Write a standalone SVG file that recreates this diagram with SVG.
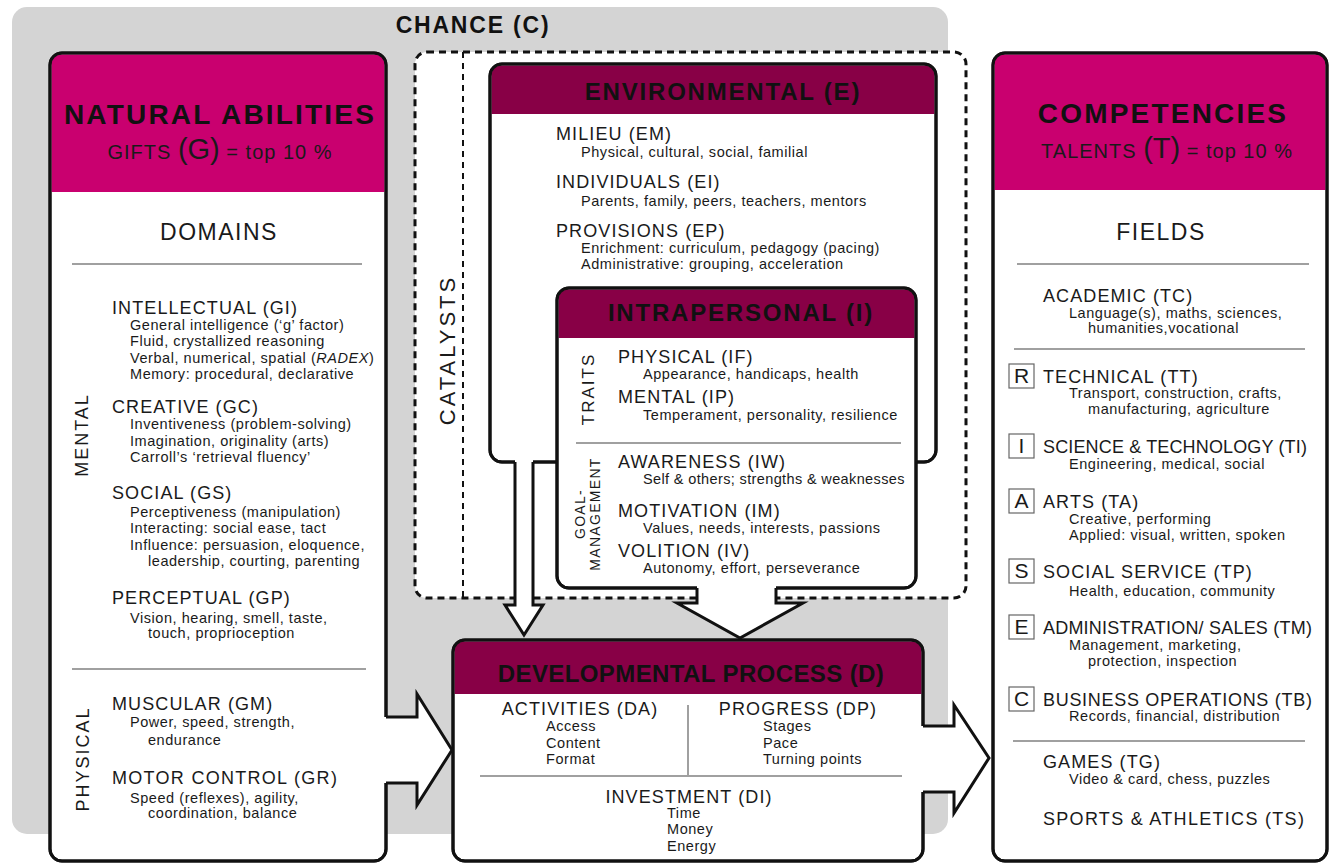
<svg xmlns="http://www.w3.org/2000/svg" width="1330" height="863" viewBox="0 0 1330 863">
<defs>
<style>
text{font-family:"Liberation Sans",Arial,sans-serif;fill:#1a1a1a}
.ttl{font-weight:bold;font-size:28px;letter-spacing:2.2px;fill:#111;text-anchor:middle}
.gift{font-size:20px;letter-spacing:1px;text-anchor:middle;fill:#1a1a1a}
.big{font-size:29px;letter-spacing:0}
.h2{font-size:23px;letter-spacing:1.5px;text-anchor:middle}
.hd{font-weight:bold;font-size:24px;letter-spacing:1.8px;fill:#111;text-anchor:middle}
.ch{font-weight:bold;font-size:23px;letter-spacing:1.8px;fill:#111;text-anchor:middle}
.it{font-size:18px;letter-spacing:1.1px}
.ds{font-size:14.5px;letter-spacing:0.55px}
.mid{text-anchor:middle}
.side{font-size:18px;letter-spacing:2px;text-anchor:middle}
.cat{font-size:22px;letter-spacing:3px;text-anchor:middle}
.gm{font-size:14px;letter-spacing:1.3px;text-anchor:middle}
.lb{font-size:21px;text-anchor:middle}
.box{fill:#fff;stroke:#111;stroke-width:3}
.mag{fill:#c9006f}
.mar{fill:#880046}
.sep{stroke:#808080;stroke-width:1.5;fill:none}
.lbox{fill:#fff;stroke:#666;stroke-width:1.2}
.arw{fill:#fff;stroke:none}
.aro{fill:none;stroke:#111;stroke-width:3;stroke-linejoin:miter}
</style>
</defs>

<g id="chance">
<rect x="12" y="7" width="936" height="827" rx="15" fill="#d4d4d4"/>
<text class="ch" x="473" y="33">CHANCE (C)</text>
</g>

<g id="catalysts">
<rect x="415" y="52" width="551" height="546" rx="12" fill="#fff" stroke="#111" stroke-width="3" stroke-dasharray="7 5"/>
<line x1="463" y1="52" x2="463" y2="598" stroke="#111" stroke-width="2" stroke-dasharray="6 5"/>
<text class="cat" transform="translate(455,350) rotate(-90)">CATALYSTS</text>
</g>

<g id="environmental">
<rect class="box" x="490" y="64" width="446" height="398" rx="12"/>
<path class="mar" d="M491.5,114 V76 Q491.5,65.5 502,65.5 H924 Q934.5,65.5 934.5,76 V114 Z"/>
<rect x="490" y="64" width="446" height="398" rx="12" fill="none" stroke="#111" stroke-width="3"/>
<text class="hd" x="723" y="100">ENVIRONMENTAL (E)</text>
<text class="it" x="556" y="140">MILIEU (EM)</text>
<text class="ds" x="581" y="157">Physical, cultural, social, familial</text>
<text class="it" x="556" y="188">INDIVIDUALS (EI)</text>
<text class="ds" x="581" y="206">Parents, family, peers, teachers, mentors</text>
<text class="it" x="556" y="237">PROVISIONS (EP)</text>
<text class="ds" x="581" y="253">Enrichment: curriculum, pedagogy (pacing)</text>
<text class="ds" x="581" y="269">Administrative: grouping, acceleration</text>
</g>

<g id="intrapersonal">
<rect class="box" x="557" y="288" width="359" height="300" rx="12"/>
<path class="mar" d="M558.5,338 V300 Q558.5,289.5 569,289.5 H904 Q914.5,289.5 914.5,300 V338 Z"/>
<rect x="557" y="288" width="359" height="300" rx="12" fill="none" stroke="#111" stroke-width="3"/>
<text class="hd" x="741" y="321">INTRAPERSONAL (I)</text>
<text class="side" style="font-size:17px" transform="translate(594,389) rotate(-90)">TRAITS</text>
<text class="it" x="618" y="363">PHYSICAL (IF)</text>
<text class="ds" x="643" y="379">Appearance, handicaps, health</text>
<text class="it" x="618" y="403">MENTAL (IP)</text>
<text class="ds" x="643" y="420">Temperament, personality, resilience</text>
<line class="sep" x1="576" y1="443" x2="901" y2="443"/>
<text class="gm" transform="translate(585,514) rotate(-90)">GOAL-</text>
<text class="gm" transform="translate(600,514) rotate(-90)">MANAGEMENT</text>
<text class="it" x="618" y="468">AWARENESS (IW)</text>
<text class="ds" x="643" y="484" textLength="262">Self &amp; others; strengths &amp; weaknesses</text>
<text class="it" x="618" y="517">MOTIVATION (IM)</text>
<text class="ds" x="643" y="533">Values, needs, interests, passions</text>
<text class="it" x="618" y="557">VOLITION (IV)</text>
<text class="ds" x="643" y="573">Autonomy, effort, perseverance</text>
</g>

<g id="natural-abilities">
<rect class="box" x="50" y="53" width="336" height="808" rx="12"/>
<path class="mag" d="M51.5,192 V65 Q51.5,54.5 62,54.5 H374 Q384.5,54.5 384.5,65 V192 Z"/>
<rect x="50" y="53" width="336" height="808" rx="12" fill="none" stroke="#111" stroke-width="3"/>
<text class="ttl" x="220" y="124">NATURAL ABILITIES</text>
<text class="gift" x="220" y="159">GIFTS <tspan class="big">(G)</tspan> = top 10 %</text>
<text class="h2" x="219" y="240">DOMAINS</text>
<line class="sep" x1="72" y1="264" x2="362" y2="264"/>
<text class="side" transform="translate(88,435) rotate(-90)">MENTAL</text>
<text class="it" x="112" y="314">INTELLECTUAL (GI)</text>
<text class="ds" x="130" y="330">General intelligence (‘g’ factor)</text>
<text class="ds" x="130" y="346">Fluid, crystallized reasoning</text>
<text class="ds" x="130" y="363">Verbal, numerical, spatial (<tspan font-style="italic">RADEX</tspan>)</text>
<text class="ds" x="130" y="379">Memory: procedural, declarative</text>
<text class="it" x="112" y="413">CREATIVE (GC)</text>
<text class="ds" x="130" y="429">Inventiveness (problem-solving)</text>
<text class="ds" x="130" y="446">Imagination, originality (arts)</text>
<text class="ds" x="130" y="462">Carroll’s ‘retrieval fluency’</text>
<text class="it" x="112" y="499">SOCIAL (GS)</text>
<text class="ds" x="130" y="517">Perceptiveness (manipulation)</text>
<text class="ds" x="130" y="533">Interacting: social ease, tact</text>
<text class="ds" x="130" y="550">Influence: persuasion, eloquence,</text>
<text class="ds" x="148" y="566">leadership, courting, parenting</text>
<text class="it" x="112" y="604">PERCEPTUAL (GP)</text>
<text class="ds" x="130" y="623">Vision, hearing, smell, taste,</text>
<text class="ds" x="148" y="638">touch, proprioception</text>
<line class="sep" x1="72" y1="669" x2="366" y2="669"/>
<text class="side" transform="translate(89,759) rotate(-90)">PHYSICAL</text>
<text class="it" x="112" y="710">MUSCULAR (GM)</text>
<text class="ds" x="130" y="727">Power, speed, strength,</text>
<text class="ds" x="148" y="745">endurance</text>
<text class="it" x="112" y="784" textLength="226">MOTOR CONTROL (GR)</text>
<text class="ds" x="130" y="803">Speed (reflexes), agility,</text>
<text class="ds" x="148" y="818">coordination, balance</text>
</g>

<g id="developmental-process">
<rect class="box" x="453" y="640" width="470" height="221" rx="12"/>
<path class="mar" d="M454.5,694 V652 Q454.5,641.5 465,641.5 H911 Q921.5,641.5 921.5,652 V694 Z"/>
<rect x="453" y="640" width="470" height="221" rx="12" fill="none" stroke="#111" stroke-width="3"/>
<text class="hd" x="691" y="682" style="letter-spacing:0.4px">DEVELOPMENTAL PROCESS (D)</text>
<text class="it mid" x="580" y="715">ACTIVITIES (DA)</text>
<text class="ds" x="546" y="731">Access</text>
<text class="ds" x="546" y="748">Content</text>
<text class="ds" x="546" y="764">Format</text>
<line class="sep" x1="688" y1="705" x2="688" y2="775"/>
<text class="it mid" x="798" y="715">PROGRESS (DP)</text>
<text class="ds" x="763" y="731">Stages</text>
<text class="ds" x="763" y="748">Pace</text>
<text class="ds" x="763" y="764">Turning points</text>
<line class="sep" x1="480" y1="776" x2="902" y2="776"/>
<text class="it mid" x="689" y="803">INVESTMENT (DI)</text>
<text class="ds" x="667" y="818">Time</text>
<text class="ds" x="667" y="834">Money</text>
<text class="ds" x="667" y="851">Energy</text>
</g>

<g id="competencies">
<rect class="box" x="993" y="53" width="334" height="808" rx="12"/>
<path class="mag" d="M994.5,190 V65 Q994.5,54.5 1005,54.5 H1315 Q1325.5,54.5 1325.5,65 V190 Z"/>
<rect x="993" y="53" width="334" height="808" rx="12" fill="none" stroke="#111" stroke-width="3"/>
<text class="ttl" x="1163" y="123">COMPETENCIES</text>
<text class="gift" x="1167" y="158">TALENTS <tspan class="big">(T)</tspan> = top 10 %</text>
<text class="h2" x="1161" y="240">FIELDS</text>
<line class="sep" x1="1017" y1="264" x2="1309" y2="264"/>
<text class="it" x="1043" y="302">ACADEMIC (TC)</text>
<text class="ds" x="1069" y="318">Language(s), maths, sciences,</text>
<text class="ds" x="1088" y="333">humanities,vocational</text>
<line class="sep" x1="1014" y1="349" x2="1305" y2="349"/>
<rect class="lbox" x="1009" y="364" width="25" height="24"/>
<text class="lb" x="1021.5" y="383">R</text>
<text class="it" x="1043" y="383">TECHNICAL (TT)</text>
<text class="ds" x="1069" y="398">Transport, construction, crafts,</text>
<text class="ds" x="1088" y="414">manufacturing, agriculture</text>
<rect class="lbox" x="1009" y="434" width="25" height="24"/>
<text class="lb" x="1021.5" y="453">I</text>
<text class="it" x="1043" y="453" textLength="265">SCIENCE &amp; TECHNOLOGY (TI)</text>
<text class="ds" x="1069" y="469">Engineering, medical, social</text>
<rect class="lbox" x="1009" y="489" width="25" height="24"/>
<text class="lb" x="1021.5" y="508">A</text>
<text class="it" x="1043" y="508">ARTS (TA)</text>
<text class="ds" x="1069" y="524">Creative, performing</text>
<text class="ds" x="1069" y="540">Applied: visual, written, spoken</text>
<rect class="lbox" x="1009" y="559" width="25" height="24"/>
<text class="lb" x="1021.5" y="578">S</text>
<text class="it" x="1043" y="578">SOCIAL SERVICE (TP)</text>
<text class="ds" x="1069" y="596">Health, education, community</text>
<rect class="lbox" x="1009" y="615" width="25" height="24"/>
<text class="lb" x="1021.5" y="634">E</text>
<text class="it" x="1043" y="634" textLength="270">ADMINISTRATION/ SALES (TM)</text>
<text class="ds" x="1069" y="650">Management, marketing,</text>
<text class="ds" x="1088" y="666">protection, inspection</text>
<rect class="lbox" x="1009" y="687" width="25" height="24"/>
<text class="lb" x="1021.5" y="706">C</text>
<text class="it" x="1043" y="706" textLength="270">BUSINESS OPERATIONS (TB)</text>
<text class="ds" x="1069" y="721">Records, financial, distribution</text>
<line class="sep" x1="1013" y1="741" x2="1305" y2="741"/>
<text class="it" x="1043" y="768">GAMES (TG)</text>
<text class="ds" x="1069" y="784">Video &amp; card, chess, puzzles</text>
<text class="it" x="1043" y="825" textLength="262">SPORTS &amp; ATHLETICS (TS)</text>
</g>

<g id="connectors">
<polygon class="arw" points="515,459 515,605 505,605 524,635 543,605 533,605 533,459"/>
<polyline class="aro" points="515,462 515,605 505,605 524,635 543,605 533,605 533,462"/>
<polygon class="arw" points="697,585 697,603 677,603 740,638 803,603 776,603 776,585"/>
<polyline class="aro" points="697,588 697,603 677,603 740,638 803,603 776,603 776,588"/>
<polygon class="arw" points="383,717 417,717 417,694 452,750 417,805 417,783 383,783"/>
<polyline class="aro" points="386,717 417,717 417,694 452,750 417,805 417,783 386,783"/>
<polygon class="arw" points="920,726 954,726 954,705 989,758 954,813 954,792 920,792"/>
<polyline class="aro" points="923,726 954,726 954,705 989,758 954,813 954,792 923,792"/>
</g>
</svg>
